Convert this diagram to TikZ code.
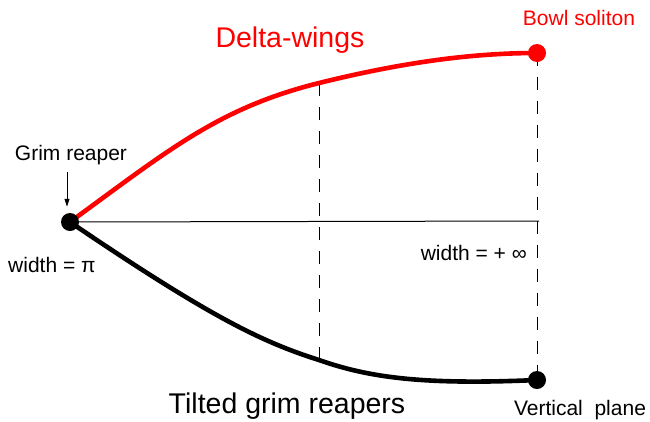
\documentclass[tikz,border=0pt]{standalone}
\usepackage{fontspec}
\setmainfont{Liberation Sans}
\usetikzlibrary{arrows.meta}
\tikzset{
  dot/.style={circle,fill=#1,inner sep=0pt,minimum size=18pt},
  thick curve/.style={line width=4.6pt,line cap=round},
  guide/.style={line width=1pt,dash pattern=on 13pt off 11pt},
  thinline/.style={line width=1pt},
  lab/.style={inner sep=0pt,anchor=base,font=\fontsize{21}{24}\selectfont},
  biglab/.style={inner sep=0pt,anchor=base,font=\fontsize{28.5}{32}\selectfont},
}
\begin{document}
\begin{tikzpicture}[x=1pt,y=-1pt]
\useasboundingbox (0,0) rectangle (650,421);
% key points
\coordinate (grc) at (70,222);
\coordinate (bowlc) at (537,53);
\coordinate (vpc) at (537,380);
\coordinate (dr) at (319,83);
\coordinate (db) at (319,360);
\coordinate (hend) at (539,221);
% horizontal line
\draw[thinline] (grc) -- (hend);
% dashed guides
\draw[guide] (dr) -- (db);
\draw[guide] (bowlc) -- (vpc);
% red curve (delta-wings)
\draw[thick curve,red] (grc) .. controls (170,149) and (219,108) .. (dr)
  .. controls (400,63) and (470,53) .. (bowlc);
% black curve (tilted grim reapers)
\draw[thick curve,black] (grc) .. controls (210,317) and (262,342) .. (db)
  .. controls (370,378) and (425,385) .. (vpc);
% dots
\node[dot=black] (gr) at (grc) {};
\node[dot=red] (bowl) at (bowlc) {};
\node[dot=black] (vp) at (vpc) {};
% labels
\node[biglab,text=red] (dw) at (290,47) {Delta-wings};
\node[biglab] (tgr) at (287,413) {Tilted grim reapers};
\node[lab] (grl) at (71,160) {Grim reaper};
\node[lab,anchor=base west] (wpi) at (8,272) {width = π};
\node[lab,anchor=base east] (winf) at (527,260) {width = + ∞};
\node[lab,text=red] (bsl) at (579,25) {Bowl soliton};
\node[lab] (vpl) at (580,415) {Vertical\ \ plane};
% arrow
\draw[thinline,-{Triangle[length=8pt,width=5pt]}] ([xshift=-4pt,yshift=-7pt]grl.south) -- ([xshift=-3pt,yshift=6pt]gr.north);
\end{tikzpicture}
\end{document}
